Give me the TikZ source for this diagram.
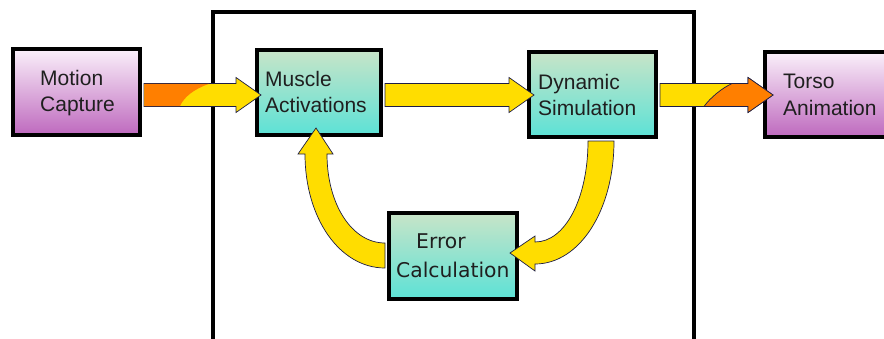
\documentclass[tikz,border=0pt]{standalone}
\usepackage{fontspec}
\setmainfont{Liberation Sans}
\newfontfamily\lucida{DejaVu Sans}
\usetikzlibrary{calc}
\definecolor{arrowyellow}{RGB}{255,221,0}
\definecolor{arroworange}{RGB}{255,127,0}
\definecolor{edgenavy}{RGB}{30,30,70}
\definecolor{purpletop}{RGB}{250,240,250}
\definecolor{purplebot}{RGB}{190,105,190}
\definecolor{tealtop}{RGB}{200,228,200}
\definecolor{tealbot}{RGB}{92,226,214}
\tikzset{
  blockbox/.style={draw=black, line width=4pt, inner sep=0pt, shading=axis, shading angle=0},
  purplebox/.style={blockbox, top color=purpletop, bottom color=purplebot},
  tealbox/.style={blockbox, top color=tealtop, bottom color=tealbot},
  flow/.style={fill=arrowyellow, draw=edgenavy, line width=0.7pt, line join=miter},
  label/.style={anchor=base west, inner sep=0pt, font=\fontsize{21}{24}\selectfont, text=black!88},
  errlabel/.style={label, font=\lucida\fontsize{20.3}{24}\selectfont},
}
% straight block arrow: #2 = start point, #3 = tip (the shaft is centred on the tip)
\newcommand{\blockarrow}[3][flow]{%
  \draw[#1] ($(#2 |- #3)+(0,-11.5)$) -- ($(#3)+(-25,-11.5)$) -- ($(#3)+(-25,-17.5)$)
    -- (#3) -- ($(#3)+(-25,17.5)$) -- ($(#3)+(-25,11.5)$) -- ($(#2 |- #3)+(0,11.5)$) -- cycle;}
\begin{document}
\begin{tikzpicture}[x=1pt,y=-1pt]
\useasboundingbox (0,0) rectangle (884,338);
\clip (0,0) rectangle (884,338);

% enclosing frame of the controller
\draw[line width=4pt, black] (213,360) -- (213,12) -- (694,12) -- (694,360);

% blocks
\node[purplebox, minimum width=127pt, minimum height=86pt] (mc) at (76.5,92) {};
\node[tealbox, minimum width=124pt, minimum height=85pt] (ma) at (319,92.5) {};
\node[tealbox, minimum width=127pt, minimum height=85pt] (ds) at (592.5,94.5) {};
\node[purplebox, minimum width=130pt, minimum height=85pt] (ta) at (830,94.5) {};
\node[tealbox, minimum width=128pt, minimum height=86pt] (ec) at (453,256) {};

% arrow start points and tips
\coordinate (s1) at ($(mc.east)+(2,0)$);
\coordinate (s2) at ($(ma.east)+(2,0)$);
\coordinate (s3) at ($(ds.east)+(2,0)$);
\coordinate (t1) at ($(ma.west)+(6,2.5)$);
\coordinate (t2) at ($(ds.west)+(7,0.5)$);
\coordinate (t3) at ($(ta.west)+(10,0.5)$);
\coordinate (t4) at ($(ec.east)+(-9,-3)$);
\coordinate (t5) at ($(ma.south)+(-3,-9)$);

% Motion Capture -> Muscle Activations, orange fading into yellow
\blockarrow{s1}{t1}
\fill[arroworange] ($(s1 |- t1)+(0.4,-11.1)$) -- ($(s1 |- t1)+(65,-11.1)$)
  .. controls ($(s1 |- t1)+(50,-6)$) and ($(s1 |- t1)+(40,2)$) .. ($(s1 |- t1)+(36,11.1)$)
  -- ($(s1 |- t1)+(0.4,11.1)$) -- cycle;

% Muscle Activations -> Dynamic Simulation
\blockarrow{s2}{t2}

% Dynamic Simulation -> Torso Animation, yellow fading into orange
\blockarrow{s3}{t3}
\filldraw[arroworange, draw=edgenavy, line width=0.7pt]
  ($(s3 |- t3)+(72,-11.5)$) -- ($(t3)+(-25,-11.5)$) -- ($(t3)+(-25,-17.5)$) -- (t3)
  -- ($(t3)+(-25,17.5)$) -- ($(t3)+(-25,11.5)$) -- ($(s3 |- t3)+(44,11.5)$)
  .. controls ($(s3 |- t3)+(50,3)$) and ($(s3 |- t3)+(62,-7)$) .. cycle;

% Dynamic Simulation -> Error Calculation (bent down and to the left)
\draw[flow] ($(ds.south)+(-4.5,2)$)
  .. controls ($(ds.south)+(-4.5,58.9)$) and ($(t4)+(55.4,-11)$) .. ($(t4)+(25,-11)$)
  -- ($(t4)+(25,-17)$) -- (t4) -- ($(t4)+(25,18)$) -- ($(t4)+(25,11)$)
  .. controls ($(t4)+(69.7,11)$) and ($(ds.south)+(21.5,71)$) .. ($(ds.south)+(21.5,2)$)
  -- cycle;

% Error Calculation -> Muscle Activations (bent left and up)
\draw[flow] ($(ec.west)+(-2,-13)$)
  .. controls ($(ec.west)+(-35.1,-13)$) and ($(t5)+(11,76.3)$) .. ($(t5)+(11,26)$)
  -- ($(t5)+(17,26)$) -- (t5) -- ($(t5)+(-18,26)$) -- ($(t5)+(-11,26)$)
  .. controls ($(t5)+(-11,90.1)$) and ($(ec.west)+(-47.3,12)$) .. ($(ec.west)+(-2,12)$)
  -- cycle;

% labels
\node[label] (mcl1) at (40,85) {Motion};
\node[label] (mcl2) at (40,111) {Capture};
\node[label] (mal1) at (265,86) {Muscle};
\node[label] (mal2) at (265,112) {Activations};
\node[label] (dsl1) at (538,89) {Dynamic};
\node[label] (dsl2) at (538,115) {Simulation};
\node[label] (tal1) at (783,88) {Torso};
\node[label] (tal2) at (783,115) {Animation};
\node[errlabel] (ecl1) at (416,248) {Error};
\node[errlabel] (ecl2) at (396,277) {Calculation};
\end{tikzpicture}
\end{document}
